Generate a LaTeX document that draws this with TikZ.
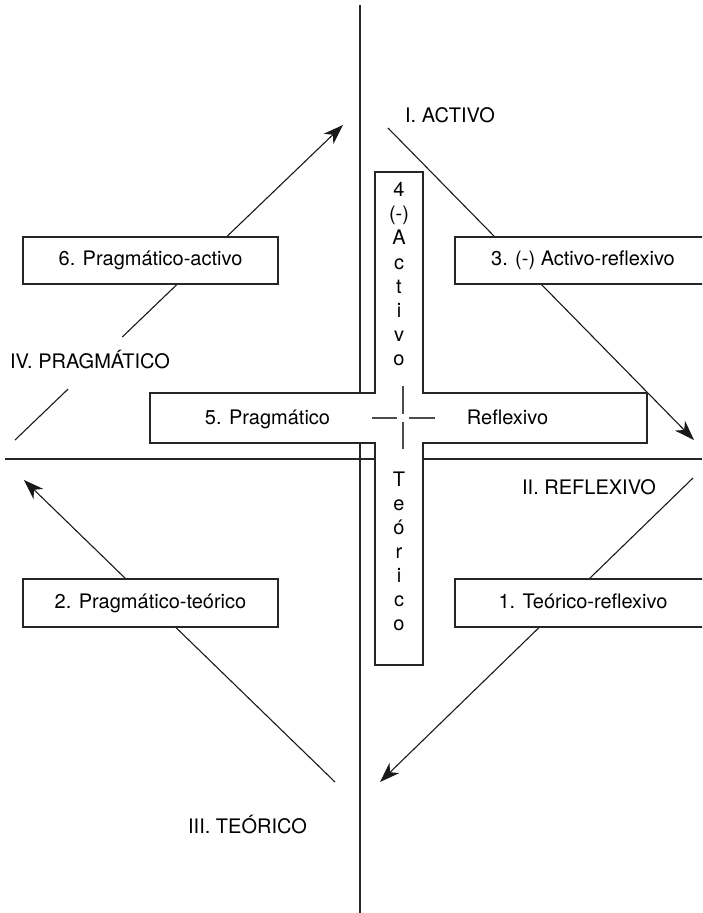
\documentclass[tikz,border=0pt]{standalone}
\usepackage{fontspec}
\setmainfont{TeX Gyre Heros}
\usetikzlibrary{arrows.meta,calc}

\tikzset{
  axisline/.style={line width=2pt, draw=black!85},
  flow/.style={line width=1.1pt, draw=black!90},
  arr/.style={-{Stealth[length=20pt,width=14pt,inset=6pt]}},
  qbox/.style={draw=black!85, line width=1.3pt, fill=white, minimum height=47pt,
               inner sep=0pt, text height=14.4pt, text depth=4.2pt},
  crossbox/.style={draw=black!85, line width=1.3pt, fill=white},
  tick/.style={line width=1.3pt, draw=black!70},
  lbl/.style={inner sep=0pt, anchor=base},
  every node/.style={font=\fontsize{20}{24}\selectfont}
}

\begin{document}
\begin{tikzpicture}[x=1pt,y=-1pt]
\useasboundingbox (0,0) rectangle (702,913);
\clip (0,0) rectangle (702,913);

% axes
\coordinate (axN) at (360,5);
\coordinate (axS) at (360,913);
\coordinate (axW) at (5,458.5);
\coordinate (axE) at (702,458.5);
\draw[axisline] (axN) -- (axS);
\draw[axisline] (axW) -- (axE);

% end points of the four diagonal paths
\coordinate (nwS) at (15,440);
\coordinate (nwE) at (343,125);
\coordinate (neS) at (388,128);
\coordinate (neE) at (694,440);
\coordinate (seS) at (693,478);
\coordinate (seE) at (380,782);
\coordinate (swS) at (335,782);
\coordinate (swE) at (24,480);

% pragmatic -> active (broken around the quadrant label)
\draw[flow] (nwS) -- ($(nwS)!0.162!(nwE)$);
\draw[flow,arr] ($(nwS)!0.327!(nwE)$) -- (nwE);
% active -> reflexive
\draw[flow,arr] (neS) -- (neE);
% reflexive -> theoretical
\draw[flow,arr] (seS) -- (seE);
% theoretical -> pragmatic
\draw[flow,arr] (swS) -- (swE);

% the four transition boxes
\node[qbox, minimum width=255pt] (b6) at (150.5,260.5) {6. Pragmático-activo};
\node[qbox, minimum width=256pt] (b3) at (583,260.5) {3. (-) Activo-reflexivo};
\node[qbox, minimum width=255pt, minimum height=48pt] (b2) at (150.5,603) {2. Pragmático-teórico};
\node[qbox, minimum width=256pt, minimum height=48pt] (b1) at (583,603) {1. Teórico-reflexivo};

% central cross
\draw[crossbox] (375,172) -- (423,172) -- (423,393) -- (647,393) -- (647,443)
  -- (423,443) -- (423,665) -- (375,665) -- (375,443) -- (150,443)
  -- (150,393) -- (375,393) -- cycle;

% small cross marking the centre
\coordinate (c1) at (403,386); \coordinate (c2) at (403,414);
\coordinate (c3) at (403,422); \coordinate (c4) at (403,449);
\coordinate (c5) at (372,418); \coordinate (c6) at (397,418);
\coordinate (c7) at (409,418); \coordinate (c8) at (435,418);
\draw[tick] (c1) -- (c2);
\draw[tick] (c3) -- (c4);
\draw[tick] (c5) -- (c6);
\draw[tick] (c7) -- (c8);

% cross labels
\node[lbl] (prag) at (267.5,424.5) {5. Pragmático};
\node[lbl] (refl) at (507.5,424.5) {Reflexivo};
\foreach \ch [count=\i] in {4,{(-)},A,c,t,i,v,o}
  \node[lbl] (act\i) at (399,{196.7+24.1*(\i-1)}) {\ch};
\foreach \ch [count=\i] in {T,e,ó,r,i,c,o}
  \node[lbl] (teo\i) at (399,{486.7+23.9*(\i-1)}) {\ch};

% quadrant labels
\node[lbl] (qI) at (450,122.5) {I. ACTIVO};
\node[lbl] (qII) at (589,494) {II. REFLEXIVO};
\node[lbl] (qIII) at (247.5,833.3) {III. TEÓRICO};
\node[lbl] (qIV) at (90,368.3) {IV. PRAGMÁTICO};
\end{tikzpicture}
\end{document}
